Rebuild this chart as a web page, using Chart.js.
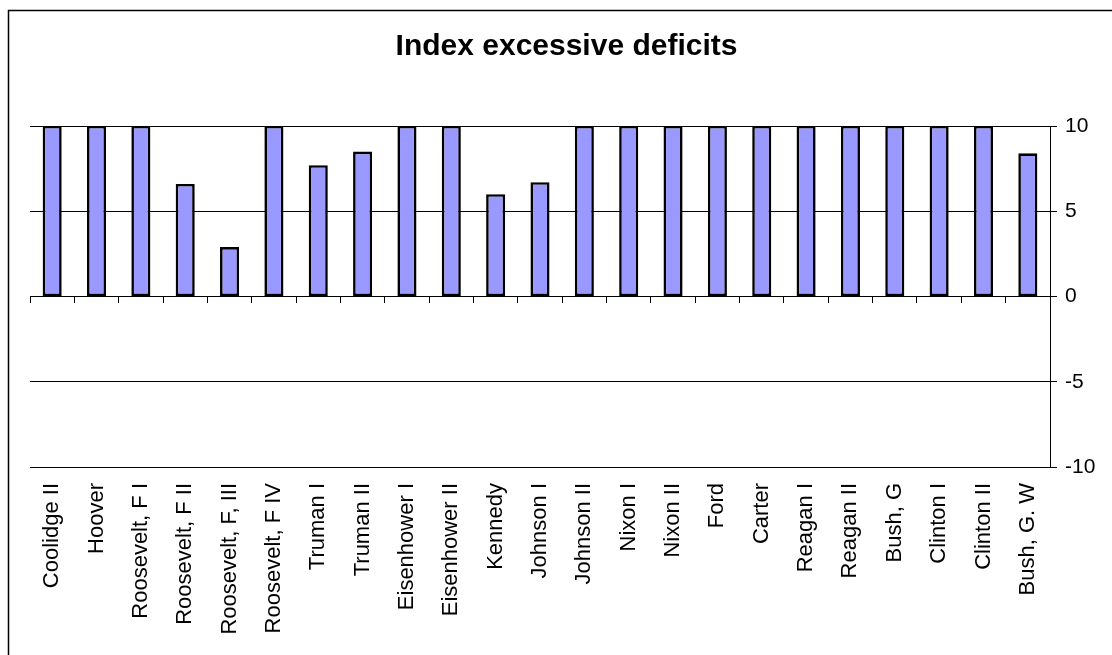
<!DOCTYPE html>
<html><head><meta charset="utf-8">
<script src="https://cdn.jsdelivr.net/npm/chart.js@4.4.1/dist/chart.umd.min.js"></script>
<style>html,body{margin:0;padding:0;background:#fff;}canvas{display:block;}</style>
</head><body>
<canvas id="c" width="1112" height="655"></canvas>
<script>
const chartTitle = "Index excessive deficits";
const categories = ["Coolidge II","Hoover","Roosevelt, F I","Roosevelt, F II","Roosevelt, F, III","Roosevelt, F IV","Truman I","Truman II","Eisenhower I","Eisenhower II","Kennedy","Johnson I","Johnson II","Nixon I","Nixon II","Ford","Carter","Reagan I","Reagan II","Bush, G","Clinton I","Clinton II","Bush, G. W"];
const indexValues = [10,10,10,6.6,2.9,10,7.7,8.5,10,10,6.0,6.7,10,10,10,10,10,10,10,10,10,10,8.4];
const yTickValues = [-10,-5,0,5,10];

const FONT = "'Liberation Sans', Arial, sans-serif";

const frame = {
  id: 'frame',
  beforeDraw(chart) {
    const ctx = chart.ctx;
    ctx.save();
    ctx.fillStyle = '#fff';
    ctx.fillRect(0, 0, chart.width, chart.height);
    ctx.strokeStyle = '#000';
    ctx.lineWidth = 1.5;
    ctx.strokeRect(8.5, 10.5, chart.width + 20, chart.height + 20);
    ctx.restore();
  }
};

new Chart(document.getElementById('c'), {
  type: 'bar',
  data: {
    labels: categories,
    datasets: [{
      data: indexValues,
      backgroundColor: '#9999FF',
      borderColor: '#000',
      borderWidth: 2.6,
      borderSkipped: false,
      barPercentage: 0.43,
      categoryPercentage: 1
    }]
  },
  options: {
    responsive: false,
    animation: false,
    layout: { padding: { left: 30, right: 9, top: 0, bottom: 0 } },
    plugins: {
      legend: { display: false },
      tooltip: { enabled: false },
      title: {
        display: true,
        text: chartTitle,
        color: '#000',
        font: { family: FONT, size: 30, weight: 'bold' },
        padding: { top: 29, bottom: 61 }
      }
    },
    scales: {
      x: {
        position: 'bottom',
        grid: { display: false },
        border: { display: false },
        ticks: {
          autoSkip: false, maxRotation: 90, minRotation: 90,
          color: '#000', padding: 8,
          font: { family: FONT, size: 22 }
        },
        afterFit(s) { s.height = 188; }
      },
      x2: {
        type: 'category',
        labels: categories,
        position: { y: 0 },
        offset: true,
        grid: { offset: true, drawOnChartArea: false, color: '#000', tickLength: 6, lineWidth: 1 },
        border: { display: false },
        ticks: { display: false }
      },
      y: {
        position: 'right',
        min: -10, max: 10,
        afterBuildTicks(s) { s.ticks = yTickValues.map(v => ({ value: v })); },
        grid: { color: '#000', lineWidth: 1, tickLength: 7 },
        border: { display: true, color: '#000', width: 1 },
        ticks: { color: '#000', padding: 8, font: { family: FONT, size: 21 } },
        afterFit(s) { s.width = 53; }
      }
    }
  },
  plugins: [frame]
});
</script>
</body></html>
